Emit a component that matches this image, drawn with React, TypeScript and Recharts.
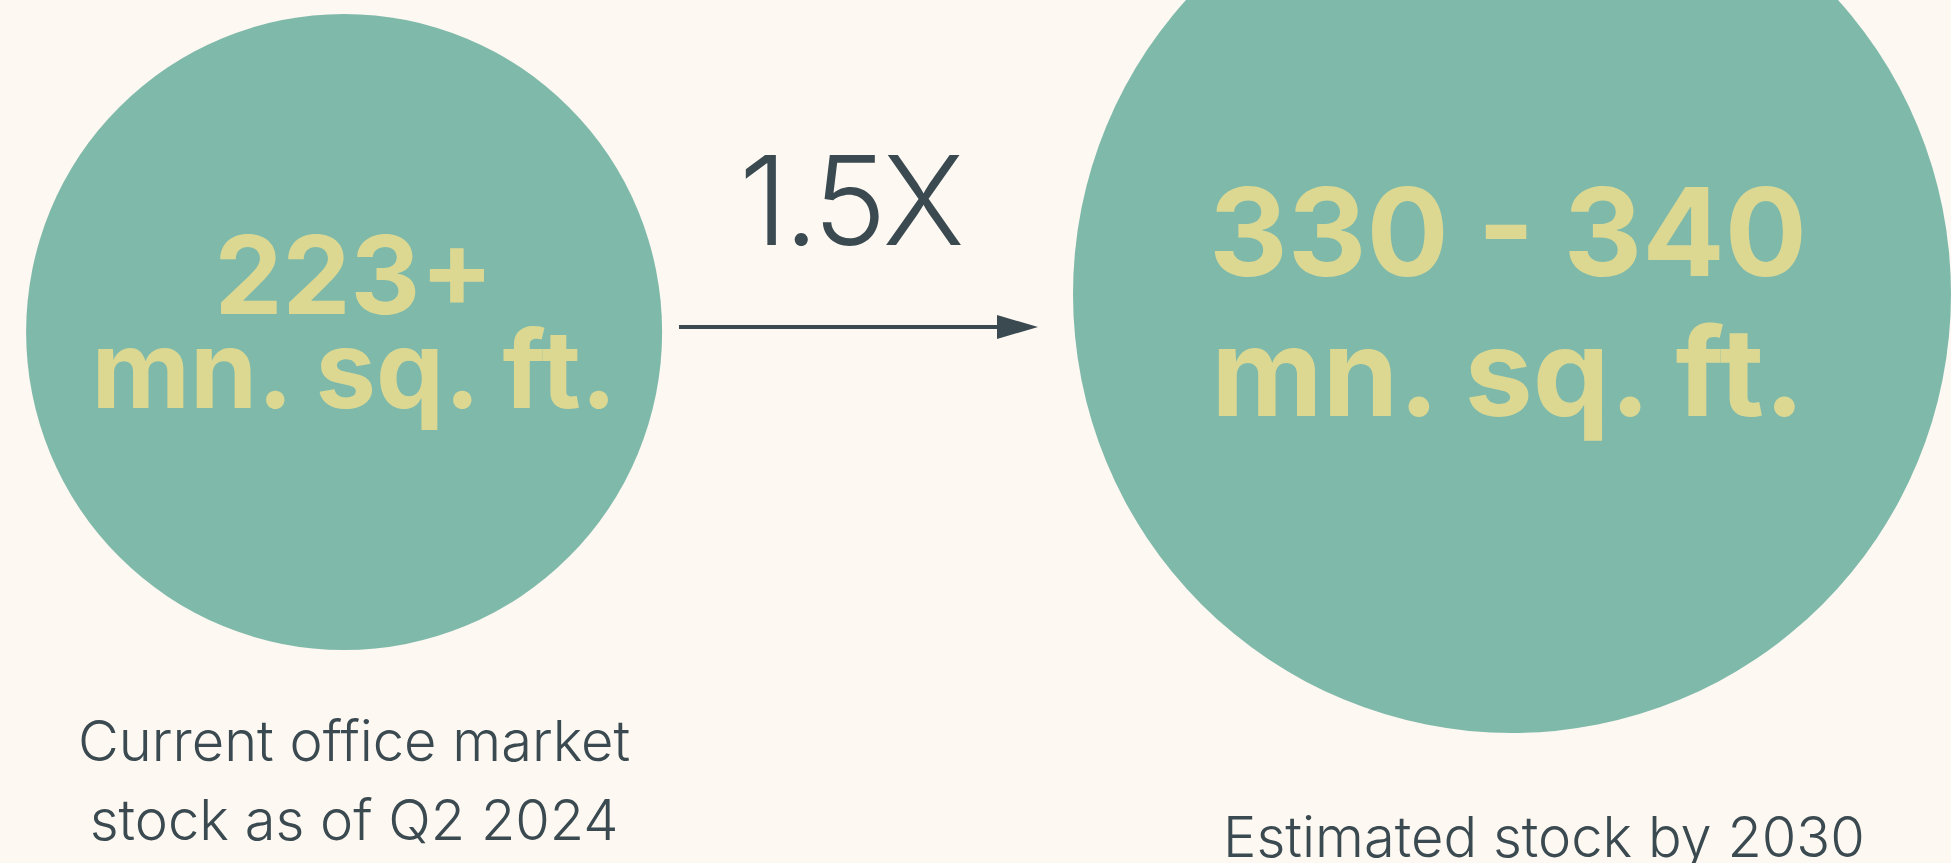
import React from 'react';
import { ScatterChart, Scatter, XAxis, YAxis, ZAxis, Customized } from 'recharts';

// office stock, mn. sq. ft. (2030 shown as a 330 - 340 range, midpoint used for the bubble)
const periods = ['Q2 2024', '2030'];
const stockValues = [223, 335];
const valueLabels = ['223+', '330 - 340'];
const unitLabel = 'mn. sq. ft.';
const captionLines = [['Current office market', 'stock as of Q2 2024'], ['Estimated stock by 2030']];
const growthLabel = '1.5X';

const data = periods.map((p, i) => ({
  period: p,
  x: stockValues[i],
  y: stockValues[i],
  z: stockValues[i],
}));

const BG = '#fdf8f2';
const BUBBLE = '#7fb9aa';
const VALUE_COLOR = '#dcd892';
const TEXT = '#3a4a50';

// per-bubble text styling
const bubbleText = [
  { size: 108, dx: 10, top: -18, bottom: 76, capDx: 10, capY: [429, 508] },
  { size: 122, dx: -4, top: -18, bottom: 122, capDx: 32, capY: [563] },
];

const Bubble = (props: any) => {
  const { cx, cy, width, index } = props;
  const r = width / 2;
  const t = bubbleText[index];
  return (
    <g>
      <circle cx={cx} cy={cy} r={r} fill={BUBBLE} />
      <text
        x={cx + t.dx}
        y={cy + t.top}
        textAnchor="middle"
        fontFamily="Inter, 'Noto Sans', sans-serif"
        fontWeight={700}
        fontSize={t.size}
        fill={VALUE_COLOR}
      >
        {valueLabels[index]}
      </text>
      <text
        x={cx + t.dx}
        y={cy + t.bottom}
        textAnchor="middle"
        fontFamily="Inter, 'Noto Sans', sans-serif"
        fontWeight={700}
        fontSize={t.size}
        fill={VALUE_COLOR}
      >
        {unitLabel}
      </text>
      {captionLines[index].map((line, j) => (
        <text
          key={j}
          x={cx + t.capDx}
          y={cy + t.capY[j]}
          textAnchor="middle"
          fontFamily="Inter, 'Noto Sans', sans-serif"
          fontWeight={300}
          fontSize={56}
          fill={TEXT}
        >
          {line}
        </text>
      ))}
    </g>
  );
};

const GrowthArrow = () => (
  <g>
    <text
      x={739}
      y={245}
      fontFamily="Inter, 'Noto Sans', sans-serif"
      fontWeight={300}
      fontSize={124}
      letterSpacing={-4}
      fill={TEXT}
    >
      {growthLabel}
    </text>
    <line x1={679} y1={327} x2={1000} y2={327} stroke={TEXT} strokeWidth={4} />
    <polygon points="997,315 1038,327 997,339" fill={TEXT} />
  </g>
);

export default function App() {
  return (
    <div style={{ width: 1951, height: 863, background: BG }}>
      <style>{`body{margin:0;background:${BG};}`}</style>
      <ScatterChart width={1951} height={863} margin={{ top: 0, right: 0, bottom: 0, left: 0 }}>
        <XAxis type="number" dataKey="x" domain={[190, 377.1]} hide />
        <YAxis type="number" dataKey="y" domain={[-1342, 1201.5]} hide />
        <ZAxis type="number" dataKey="z" domain={[223, 335]} range={[317690, 605447]} />
        <Scatter data={data} shape={<Bubble />} isAnimationActive={false} />
        <Customized component={GrowthArrow} />
      </ScatterChart>
    </div>
  );
}
